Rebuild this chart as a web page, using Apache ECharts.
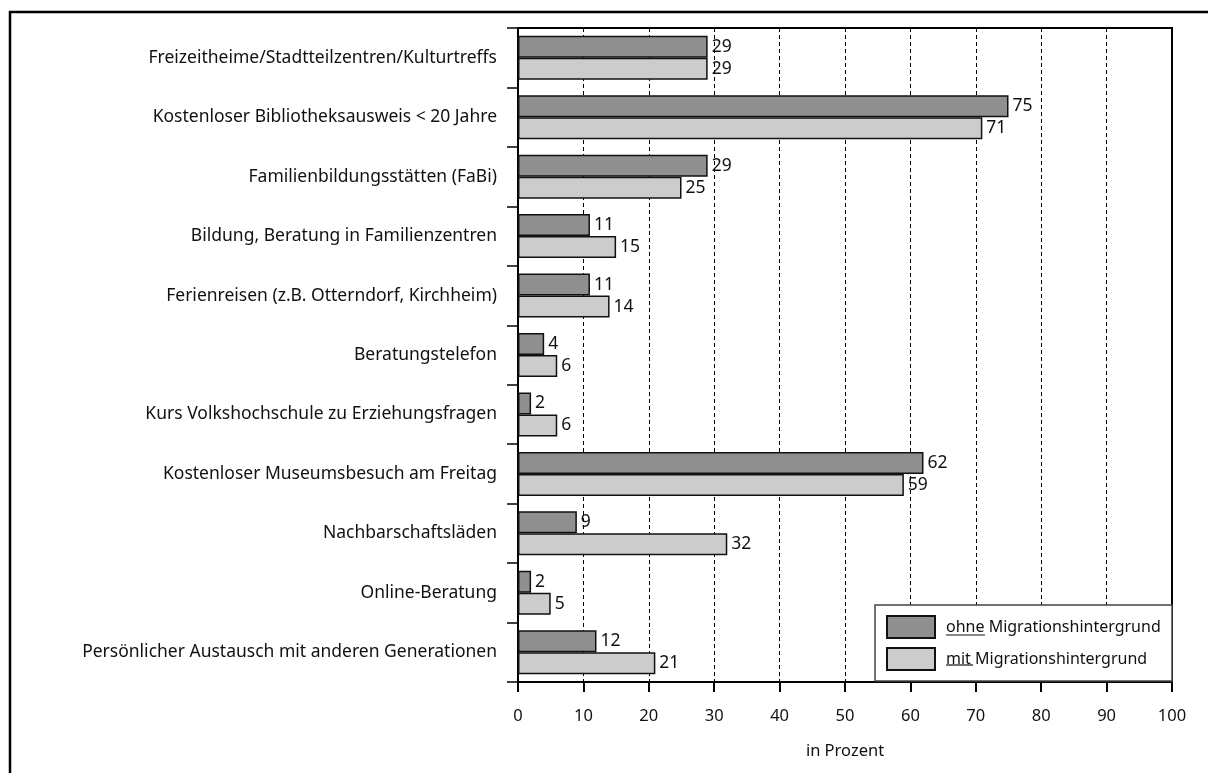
<!DOCTYPE html>
<html><head><meta charset="utf-8">
<script src="https://cdn.jsdelivr.net/npm/echarts@6/dist/echarts.min.js"></script>
<style>html,body{margin:0;padding:0;background:#fff}#c{width:1208px;height:773px}</style>
</head><body><div id="c"></div>
<script>
const categories = [
  'Freizeitheime/Stadtteilzentren/Kulturtreffs',
  'Kostenloser Bibliotheksausweis < 20 Jahre',
  'Familienbildungsstätten (FaBi)',
  'Bildung, Beratung in Familienzentren',
  'Ferienreisen (z.B. Otterndorf, Kirchheim)',
  'Beratungstelefon',
  'Kurs Volkshochschule zu Erziehungsfragen',
  'Kostenloser Museumsbesuch am Freitag',
  'Nachbarschaftsläden',
  'Online-Beratung',
  'Persönlicher Austausch mit anderen Generationen'
];
const ohneValues = [29, 75, 29, 11, 11, 4, 2, 62, 9, 2, 12];
const mitValues = [29, 71, 25, 15, 14, 6, 6, 59, 32, 5, 21];
const seriesNames = ['ohne Migrationshintergrund', 'mit Migrationshintergrund'];
const axisName = 'in Prozent';

const FONT = 'Noto Sans';
const chart = echarts.init(document.getElementById('c'), null, {renderer: 'canvas'});
const barLabel = {show: true, position: 'right', distance: 4, fontFamily: FONT, fontSize: 17.5, color: '#111'};
chart.setOption({
  animation: false,
  textStyle: {fontFamily: FONT},
  grid: {left: 518, right: 36, top: 28, bottom: 91, show: true, borderColor: '#000', borderWidth: 2, backgroundColor: 'transparent'},
  xAxis: {
    type: 'value', min: 0, max: 100, interval: 10,
    name: axisName, nameLocation: 'middle', nameGap: 61,
    nameTextStyle: {fontSize: 16.5, color: '#111', fontFamily: FONT},
    axisLine: {show: true, lineStyle: {color: '#000', width: 2}},
    axisTick: {show: true, length: 10, lineStyle: {color: '#000', width: 2}},
    axisLabel: {fontSize: 16.5, color: '#111', margin: 26, fontFamily: FONT},
    splitLine: {show: true, lineStyle: {color: '#000', type: [4, 3], width: 1}}
  },
  yAxis: {
    type: 'category', data: categories, inverse: true,
    axisLine: {show: true, lineStyle: {color: '#000', width: 2}},
    axisTick: {show: true, length: 11, lineStyle: {color: '#000', width: 1.5}},
    axisLabel: {fontSize: 17.5, color: '#111', margin: 21, fontFamily: FONT},
    splitLine: {show: false}
  },
  legend: {
    orient: 'vertical', left: 886, top: 615, itemWidth: 48, itemHeight: 22, itemGap: 8,
    icon: 'rect', padding: 0, z: 20,
    textStyle: {fontSize: 16, color: '#111', fontFamily: FONT, padding: [0, 0, 0, 6]},
    data: seriesNames
  },
  graphic: [
    {type: 'rect', z: 15, shape: {x: 10, y: 12, width: 1300, height: 900}, style: {fill: 'none', stroke: '#000', lineWidth: 2.5}},
    {type: 'rect', z: 15, shape: {x: 875, y: 605, width: 297, height: 76}, style: {fill: '#fff', stroke: '#444', lineWidth: 1.5}},
    {type: 'line', z: 25, shape: {x1: 946, y1: 635, x2: 985, y2: 635}, style: {stroke: '#111', lineWidth: 1.2}},
    {type: 'line', z: 25, shape: {x1: 946, y1: 665, x2: 973, y2: 665}, style: {stroke: '#111', lineWidth: 1.2}}
  ],
  series: [
    {name: seriesNames[0], type: 'bar', data: ohneValues, barWidth: 22, barGap: '0%',
     itemStyle: {color: '#8f8f8f', borderColor: '#111', borderWidth: 1.5}, label: barLabel},
    {name: seriesNames[1], type: 'bar', data: mitValues, barWidth: 22, barGap: '0%',
     itemStyle: {color: '#cccccc', borderColor: '#111', borderWidth: 1.5}, label: barLabel}
  ]
});
</script></body></html>
